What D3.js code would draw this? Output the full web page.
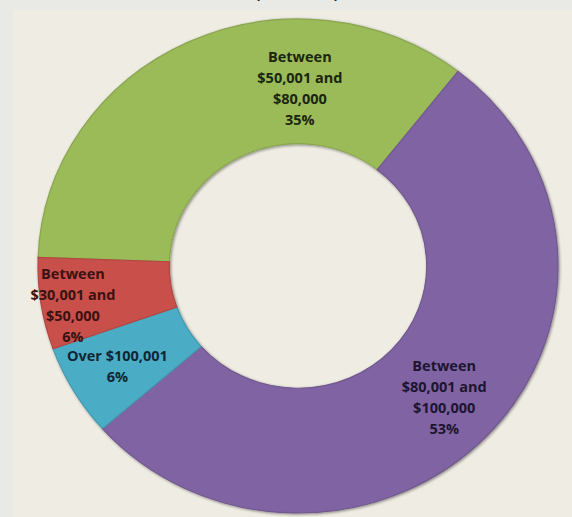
<!DOCTYPE html>
<html>
<head>
<meta charset="utf-8">
<script src="https://cdn.jsdelivr.net/npm/d3@7"></script>
<style>
  html, body { margin: 0; padding: 0; background: #e9e9e6; }
  svg { display: block; }
</style>
</head>
<body>
<svg id="chart" width="572" height="517"></svg>
<script>
// slices, in clockwise order from the top-left
var categories = ['Between $50,001 and $80,000', 'Between $80,001 and $100,000', 'Over $100,001', 'Between $30,001 and $50,000'];
var shares = [35, 53, 6, 6];
var colours = ['#9bbb59', '#8064a2', '#4bacc6', '#c9504b'];
var textColours = ['#1c2510', '#1d1530', '#0e2733', '#3a1210'];

var W = 572, H = 517;
var cx = 298, cy = 266, R = 260, squash = 0.95;
var rInner = R * 0.495;

var svg = d3.select('#chart');

// background panel (slide)
svg.append('rect').attr('width', W).attr('height', H).attr('fill', '#e9e9e6');
svg.append('rect').attr('x', 13).attr('y', 10).attr('width', W - 13).attr('height', H - 10).attr('fill', '#efede3');

// title, mostly cut off at the top of the picture
svg.append('text').attr('x', 257).attr('y', -3).attr('text-anchor', 'middle')
  .style('font', '24px "Open Sans", sans-serif').attr('fill', '#222').text('(');
svg.append('text').attr('x', 337).attr('y', -3).attr('text-anchor', 'middle')
  .style('font', '24px "Open Sans", sans-serif').attr('fill', '#222').text(')');

var defs = svg.append('defs');
var f = defs.append('filter').attr('id', 'shade').attr('x', '-10%').attr('y', '-10%').attr('width', '120%').attr('height', '120%');
f.append('feGaussianBlur').attr('in', 'SourceAlpha').attr('stdDeviation', 1.6).attr('result', 'b');
f.append('feOffset').attr('in', 'b').attr('dx', 0.5).attr('dy', 1).attr('result', 'o');
f.append('feComponentTransfer').attr('in', 'o').attr('result', 's')
  .append('feFuncA').attr('type', 'linear').attr('slope', 0.45);
var m = f.append('feMerge');
m.append('feMergeNode').attr('in', 's');
m.append('feMergeNode').attr('in', 'SourceGraphic');

var data = categories.map(function(c, i){ return {cat: c, value: shares[i], i: i}; });

var pie = d3.pie()
  .sort(null)
  .value(function(d){ return d.value; })
  .startAngle(-88 * Math.PI / 180)
  .endAngle(272 * Math.PI / 180);

var arc = d3.arc().innerRadius(rInner).outerRadius(R);
var labelArc = d3.arc().innerRadius((rInner + R) / 2).outerRadius((rInner + R) / 2);

var ring = svg.append('g')
  .attr('transform', 'translate(' + cx + ',' + cy + ') scale(1,' + squash + ')')
  .attr('filter', 'url(#shade)');

var arcs = pie(data);

ring.selectAll('path.slice')
  .data(arcs)
  .enter().append('path')
  .attr('class', 'slice')
  .attr('d', arc)
  .attr('fill', function(d){ return colours[d.data.i]; })
  .attr('stroke', function(d){ return d3.color(colours[d.data.i]).darker(0.35); })
  .attr('stroke-width', 1.2)
  .attr('vector-effect', 'non-scaling-stroke');

// excel moved some labels off the centroid
var nudge = [[84, -10], [5, 5], [-13, 7], [-33, 11]];

function splitLabel(c){
  var mm = c.match(/^(Between) (\$[\d,]+ and) (\$[\d,]+)$/);
  return mm ? [mm[1], mm[2], mm[3]] : [c];
}

var lineH = 21;
var labels = svg.append('g');
arcs.forEach(function(d){
  var c = labelArc.centroid(d);
  var x = cx + c[0] + nudge[d.data.i][0];
  var y = cy + c[1] * squash + nudge[d.data.i][1];
  var lines = splitLabel(d.data.cat).concat([d3.format('.0f')(d.data.value) + '%']);
  var t = labels.append('text')
    .attr('text-anchor', 'middle')
    .attr('fill', textColours[d.data.i])
    .style('font', '700 14.5px "Open Sans", sans-serif');
  lines.forEach(function(l, k){
    t.append('tspan')
      .attr('x', x)
      .attr('y', y + (k - (lines.length - 1) / 2) * lineH + 5)
      .text(l);
  });
});
</script>
</body>
</html>
